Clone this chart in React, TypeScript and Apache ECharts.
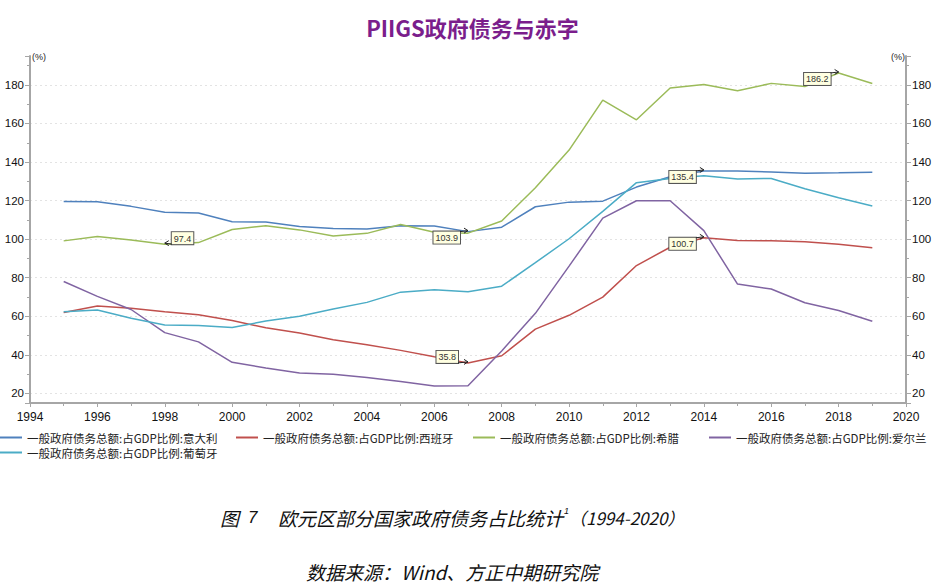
import React, { useEffect, useRef } from 'react';
import * as echarts from 'echarts';

const years = [1995, 1996, 1997, 1998, 1999, 2000, 2001, 2002, 2003, 2004, 2005, 2006, 2007, 2008, 2009, 2010, 2011, 2012, 2013, 2014, 2015, 2016, 2017, 2018, 2019];

const italy = [119.5, 119.4, 117.0, 114.0, 113.6, 109.0, 108.9, 106.5, 105.5, 105.3, 107.0, 106.8, 103.9, 106.2, 116.8, 119.2, 119.7, 127.0, 132.4, 135.4, 135.3, 134.8, 134.2, 134.4, 134.7];
const spain = [62.0, 65.3, 64.2, 62.3, 60.8, 57.8, 54.0, 51.3, 47.8, 45.2, 42.3, 39.0, 35.8, 39.5, 53.3, 60.5, 69.9, 86.3, 95.8, 100.7, 99.3, 99.2, 98.6, 97.4, 95.5];
const greece = [99.1, 101.4, 99.5, 97.4, 98.2, 105.0, 107.0, 104.8, 101.6, 103.0, 107.6, 103.6, 103.1, 109.4, 126.7, 146.2, 172.1, 161.9, 178.4, 180.2, 177.0, 180.8, 179.2, 186.2, 180.7];
const ireland = [78.0, 70.3, 63.5, 51.5, 46.7, 36.1, 33.2, 30.6, 29.9, 28.2, 26.1, 23.8, 23.9, 42.0, 61.5, 86.0, 110.9, 119.9, 119.9, 104.4, 76.7, 74.1, 67.0, 63.0, 57.4];
const portugal = [62.3, 63.2, 59.0, 55.5, 55.2, 54.2, 57.5, 60.0, 63.8, 67.2, 72.5, 73.7, 72.7, 75.6, 87.8, 100.2, 114.4, 129.3, 131.4, 132.9, 131.2, 131.5, 126.1, 121.5, 117.2];

const seriesNames = [
  '一般政府债务总额:占GDP比例:意大利',
  '一般政府债务总额:占GDP比例:西班牙',
  '一般政府债务总额:占GDP比例:希腊',
  '一般政府债务总额:占GDP比例:爱尔兰',
  '一般政府债务总额:占GDP比例:葡萄牙',
];
const seriesValues = [italy, spain, greece, ireland, portugal];
const seriesColors = ['#4F81BD', '#C0504D', '#9BBB59', '#8064A2', '#4BACC6'];

const titleText = 'PIIGS政府债务与赤字';
const unitText = '(%)';
const captionFig = '图';
const captionNum = '7';
const captionMain = '欧元区部分国家政府债务占比统计';
const captionSup = '1';
const captionRange = '（1994-2020）';
const sourceText = '数据来源：Wind、方正中期研究院';

// which extreme of which series carries a callout, and on which side of the point the box sits
const callouts = [
  { series: 2, kind: 'max', place: 'dl' },
  { series: 2, kind: 'min', place: 'ur' },
  { series: 0, kind: 'max', place: 'dl' },
  { series: 0, kind: 'min', place: 'dl' },
  { series: 1, kind: 'max', place: 'dl' },
  { series: 1, kind: 'min', place: 'ul' },
];

const legendLayout = [
  { left: 0, top: 431.5 },
  { left: 236, top: 431.5 },
  { left: 473, top: 431.5 },
  { left: 709, top: 431.5 },
  { left: 0, top: 446.5 },
];

const CJK = '"Noto Sans CJK SC", sans-serif';
const LAT = '"Liberation Sans", Arial, sans-serif';
const axisGray = '#a6a6a6';

function yAxis(pos: 'left' | 'right') {
  return {
    type: 'value',
    position: pos,
    min: 15,
    max: 195,
    splitNumber: 9,
    name: unitText,
    nameLocation: 'end',
    nameGap: -1,
    nameTextStyle: {
      fontSize: 9,
      fontFamily: LAT,
      color: '#222',
      align: pos === 'left' ? 'left' : 'right',
      verticalAlign: 'middle',
      padding: pos === 'left' ? [0, 0, 0, 2] : [0, 1, 0, 0],
    },
    axisLine: { show: true, lineStyle: { color: axisGray, width: 2 } },
    axisTick: { show: true, inside: false, length: 5, lineStyle: { color: axisGray } },
    minorTick: { show: true, splitNumber: 2, length: 3, lineStyle: { color: axisGray } },
    axisLabel: {
      showMinLabel: false,
      showMaxLabel: false,
      fontSize: 11.5,
      fontFamily: LAT,
      color: '#111',
      margin: 6,
    },
    splitLine: {
      show: pos === 'left',
      showMinLine: false,
      showMaxLine: false,
      lineStyle: { color: '#e3e3e3', type: [2, 3], width: 1 },
    },
    minorSplitLine: { show: false },
  };
}

export default function App() {
  const ref = useRef<HTMLDivElement>(null);

  useEffect(() => {
    const chart = echarts.init(ref.current as HTMLDivElement, null, { renderer: 'svg' });

    const option: any = {
      animation: false,
      backgroundColor: '#ffffff',
      title: {
        text: titleText,
        left: 'center',
        top: 11,
        textStyle: { fontSize: 22, fontWeight: 'bold', color: '#7B1E8C', fontFamily: CJK },
      },
      grid: { left: 30, right: 39, top: 56, bottom: 180, containLabel: false },
      legend: seriesNames.map((n, i) => ({
        data: [n],
        left: legendLayout[i].left,
        top: legendLayout[i].top,
        padding: 0,
        icon: 'rect',
        itemWidth: 22,
        itemHeight: 2,
        itemGap: 0,
        selectedMode: false,
        textStyle: { fontSize: 11.5, fontFamily: CJK, color: '#222', lineHeight: 12 },
      })),
      xAxis: {
        type: 'value',
        min: 1994,
        max: 2020,
        interval: 2,
        axisLine: { onZero: false, lineStyle: { color: axisGray, width: 2 } },
        axisTick: { show: true, length: 4, lineStyle: { color: axisGray } },
        minorTick: { show: true, splitNumber: 2, length: 3, lineStyle: { color: axisGray } },
        axisLabel: {
          formatter: (v: number) => String(v),
          fontSize: 12,
          fontFamily: LAT,
          color: '#111',
          margin: 8,
        },
        splitLine: { show: false },
        minorSplitLine: { show: false },
      },
      yAxis: [yAxis('left'), yAxis('right')],
      series: seriesNames.map((n, i) => ({
        name: n,
        type: 'line',
        yAxisIndex: 0,
        showSymbol: false,
        symbol: 'none',
        color: seriesColors[i],
        lineStyle: { width: 1.5, color: seriesColors[i] },
        emphasis: { disabled: true },
        data: years.map((y, k) => [y, seriesValues[i][k]]),
        z: 2 + i,
      })),
    };

    chart.setOption(option);

    const elements: any[] = [];
    const textBase = (extra: any) => ({ type: 'text', z: 100, ...extra });

    // caption & source
    const capY = 517;
    const capStyle = { fontSize: 19, fontFamily: CJK, fontStyle: 'italic', fill: '#111', verticalAlign: 'middle', textVerticalAlign: 'middle' };
    elements.push(textBase({ x: 220, y: capY, style: { ...capStyle, text: captionFig } }));
    elements.push(textBase({ x: 248, y: capY, style: { ...capStyle, fontFamily: LAT, fontSize: 17, text: captionNum } }));
    elements.push(textBase({ x: 278, y: capY, style: { ...capStyle, text: captionMain } }));
    elements.push(textBase({ x: 564, y: capY - 6, style: { ...capStyle, fontSize: 9, fontFamily: LAT, text: captionSup } }));
    elements.push(textBase({ x: 569, y: capY, style: { ...capStyle, fontSize: 17, text: captionRange } }));
    elements.push(textBase({ x: 306, y: 571, style: { ...capStyle, text: sourceText } }));

    // callouts on extremes
    callouts.forEach((c) => {
      const vals = seriesValues[c.series];
      const target = c.kind === 'max' ? Math.max(...vals) : Math.min(...vals);
      const idx = vals.indexOf(target);
      const p = chart.convertToPixel({ seriesIndex: c.series }, [years[idx], target]) as number[];
      const px = p[0];
      const py = p[1];
      let bx = px - 8;
      let align = 'right';
      let vAlign = 'top';
      if (c.place === 'ul') { bx = px - 10; vAlign = 'bottom'; }
      if (c.place === 'ur') { bx = px + 7; align = 'left'; vAlign = 'bottom'; }
      elements.push(textBase({
        x: bx,
        y: py,
        z: 101,
        style: {
          text: target.toFixed(1),
          fontSize: 9,
          fontFamily: LAT,
          fill: '#333',
          align,
          textAlign: align,
          verticalAlign: vAlign,
          textVerticalAlign: vAlign,
          backgroundColor: '#FFFFE1',
          borderColor: '#555',
          borderWidth: 1,
          padding: [2, 2, 1, 2],
        },
      }));
      const dx = px - bx;
      const L = Math.abs(dx) || 1;
      const ux = dx / L;
      const hx = px - ux * 4;
      const hy = py - 1;
      elements.push({ type: 'line', z: 102, shape: { x1: bx, y1: py, x2: px, y2: py - 1 }, style: { stroke: '#222', lineWidth: 1 } });
      elements.push({
        type: 'polyline',
        z: 102,
        shape: { points: [[hx, hy - 2.5], [px, py - 1], [hx, hy + 2.5]] },
        style: { stroke: '#222', fill: 'none', lineWidth: 1 },
      });
    });

    chart.setOption({ graphic: { elements } });

    return () => chart.dispose();
  }, []);

  return (
    <div
      ref={ref}
      style={{ position: 'fixed', left: 0, top: 0, width: 945, height: 583, background: '#fff' }}
    />
  );
}
